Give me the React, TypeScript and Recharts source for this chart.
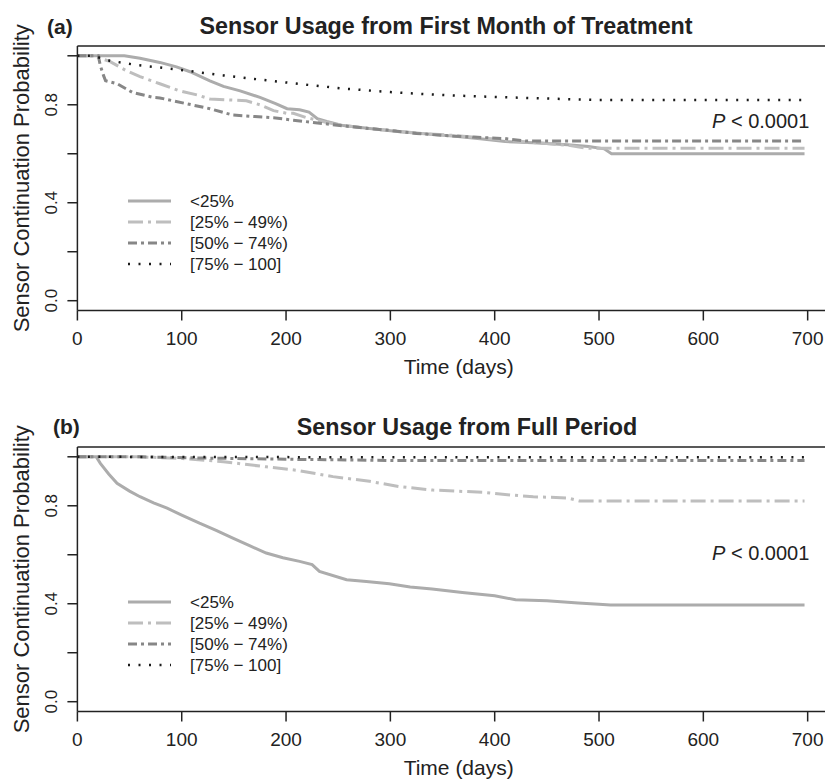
import React from 'react';
import { LineChart, Line, XAxis, YAxis, ReferenceLine, Legend, Label } from 'recharts';

const FONT = '"Liberation Sans", Arial, Helvetica, sans-serif';
const INK = '#222222';

// axes
const dayTicks = [0, 100, 200, 300, 400, 500, 600, 700];
const probTicks = [0, 0.2, 0.4, 0.6, 0.8, 1.0];
const probLabelTicks = [0, 0.4, 0.8];
const dayDomain = [0, 731];
const probDomain = [-0.04, 1.04];

const groupNames = ['<25%', '[25% − 49%)', '[50% − 74%)', '[75% − 100]'];

// (a) usage from first month of treatment
const aDaysLow = [0, 45, 60, 79, 95, 108, 127, 140, 156, 175, 190, 201, 213, 222, 230, 239, 255, 280, 309, 330, 360, 386, 410, 437, 470, 490, 505, 512, 697];
const aProbLow = [1, 1, 0.99, 0.973, 0.955, 0.935, 0.898, 0.875, 0.857, 0.83, 0.805, 0.784, 0.78, 0.77, 0.743, 0.732, 0.715, 0.703, 0.69, 0.683, 0.672, 0.661, 0.65, 0.645, 0.637, 0.63, 0.62, 0.6, 0.6];
const aDaysMid = [0, 15, 31, 47, 60, 79, 98, 115, 127, 145, 162, 175, 188, 201, 207, 220, 239, 255, 280, 300, 330, 360, 400, 440, 470, 488, 697];
const aProbMid = [1, 1, 0.977, 0.939, 0.915, 0.886, 0.857, 0.84, 0.824, 0.82, 0.816, 0.8, 0.776, 0.765, 0.765, 0.747, 0.728, 0.715, 0.703, 0.695, 0.683, 0.675, 0.66, 0.645, 0.635, 0.622, 0.622];
const aDaysHigh = [0, 20, 22, 25, 27, 38, 53, 73, 79, 105, 127, 149, 170, 188, 207, 226, 255, 280, 300, 325, 350, 380, 410, 430, 697];
const aProbHigh = [1, 1, 0.96, 0.92, 0.898, 0.886, 0.85, 0.83, 0.828, 0.804, 0.784, 0.758, 0.752, 0.747, 0.737, 0.728, 0.714, 0.703, 0.695, 0.683, 0.675, 0.668, 0.662, 0.652, 0.652];
const aDaysTop = [0, 15, 31, 57, 92, 105, 140, 181, 213, 255, 300, 322, 360, 400, 437, 470, 500, 697];
const aProbTop = [1, 1, 0.98, 0.962, 0.946, 0.939, 0.92, 0.9, 0.885, 0.866, 0.852, 0.846, 0.838, 0.832, 0.827, 0.823, 0.82, 0.82];

// (b) usage from full period
const bDaysLow = [0, 18, 22, 30, 38, 50, 60, 73, 86, 100, 117, 133, 149, 165, 181, 197, 213, 225, 232, 258, 277, 299, 319, 340, 369, 400, 420, 450, 480, 500, 511, 697];
const bProbLow = [1, 1, 0.973, 0.93, 0.892, 0.86, 0.837, 0.812, 0.79, 0.762, 0.729, 0.7, 0.668, 0.637, 0.607, 0.588, 0.573, 0.56, 0.532, 0.498, 0.491, 0.482, 0.468, 0.46, 0.446, 0.433, 0.416, 0.412, 0.403, 0.398, 0.395, 0.395];
const bDaysMid = [0, 60, 101, 140, 181, 210, 245, 280, 309, 341, 389, 415, 437, 470, 481, 697];
const bProbMid = [1, 1, 0.993, 0.98, 0.959, 0.945, 0.919, 0.9, 0.878, 0.864, 0.855, 0.844, 0.837, 0.832, 0.82, 0.82];
const bDaysHigh = [0, 60, 120, 200, 260, 300, 697];
const bProbHigh = [1, 1, 0.995, 0.99, 0.987, 0.985, 0.985];
const bDaysTop = [0, 300, 697];
const bProbTop = [1, 0.998, 0.998];

const groupStyles = [
  { stroke: '#acacac', width: 3, dash: undefined },
  { stroke: '#bebebe', width: 3, dash: '15 5 3 5' },
  { stroke: '#878787', width: 3, dash: '9 4 3 4' },
  { stroke: '#1a1a1a', width: 2.5, dash: '2 8.5' },
];

const toPoints = (days: number[], probs: number[]) => days.map((day, i) => ({ day, prob: probs[i] }));

const panelA = [toPoints(aDaysLow, aProbLow), toPoints(aDaysMid, aProbMid), toPoints(aDaysHigh, aProbHigh), toPoints(aDaysTop, aProbTop)];
const panelB = [toPoints(bDaysLow, bProbLow), toPoints(bDaysMid, bProbMid), toPoints(bDaysHigh, bProbHigh), toPoints(bDaysTop, bProbTop)];

function YTick(props: any) {
  const { x, y, payload } = props;
  if (!probLabelTicks.some((t) => Math.abs(t - payload.value) < 1e-6)) return <g />;
  return (
    <text x={x} y={y} dy="0.35em" textAnchor="middle" transform={`rotate(-90, ${x}, ${y})`}
      fontSize={17} fontFamily={FONT} fill={INK}>
      {payload.value.toFixed(1)}
    </text>
  );
}

function YTitle(props: any) {
  const vb = props.viewBox || { x: 0, y: 46, width: 77.4, height: 264.5 };
  const cx = 29;
  const cy = vb.y + vb.height / 2;
  return (
    <text x={cx} y={cy} textAnchor="middle" transform={`rotate(-90, ${cx}, ${cy})`}
      fontSize={22} fontFamily={FONT} fill={INK}>
      Sensor Continuation Probability
    </text>
  );
}

function XTitle(props: any) {
  const vb = props.viewBox || { x: 77.4, y: 310.5, width: 762.6, height: 60 };
  return (
    <text x={vb.x + vb.width / 2} y={vb.y + 63} textAnchor="middle" fontSize={21} fontFamily={FONT} fill={INK}>
      Time (days)
    </text>
  );
}

function LegendBox() {
  return (
    <svg width={260} height={90}>
      {groupNames.map((name, i) => {
        const y = 11 + i * 21;
        const s = groupStyles[i];
        return (
          <g key={name}>
            <line x1={8} x2={51} y1={y} y2={y} stroke={s.stroke} strokeWidth={s.width} strokeDasharray={s.dash} />
            <text x={70} y={y} dy="0.35em" fontSize={17} fontFamily={FONT} fill={INK}>{name}</text>
          </g>
        );
      })}
    </svg>
  );
}

function Panel({ series }: { series: { day: number; prob: number }[][] }) {
  const axisStyle = { stroke: INK, strokeWidth: 1.5 };
  return (
    <LineChart width={845} height={392} margin={{ top: 46, right: 5, bottom: 21.5, left: 0 }}>
      <XAxis type="number" dataKey="day" domain={dayDomain} ticks={dayTicks} interval={0} allowDataOverflow
        height={60} tickSize={10} tickMargin={11.5} axisLine={axisStyle} tickLine={axisStyle}
        tick={{ fontSize: 19, fill: INK, fontFamily: FONT }}>
        <Label content={XTitle} />
      </XAxis>
      <YAxis type="number" domain={probDomain} ticks={probTicks} interval={0} allowDataOverflow
        width={77.4} tickSize={10} tickMargin={16} axisLine={axisStyle} tickLine={axisStyle} tick={YTick}>
        <Label content={YTitle} />
      </YAxis>
      <ReferenceLine y={1.04} stroke={INK} strokeWidth={1.5} />
      {series.map((pts, i) => (
        <Line key={groupNames[i]} name={groupNames[i]} data={pts} dataKey="prob" type="linear"
          stroke={groupStyles[i].stroke} strokeWidth={groupStyles[i].width} strokeDasharray={groupStyles[i].dash}
          dot={false} activeDot={false} isAnimationActive={false} />
      ))}
      <Legend layout="vertical" align="center" verticalAlign="middle" content={LegendBox}
        wrapperStyle={{ left: 120, top: 190, width: 260, height: 90 }} />
    </LineChart>
  );
}

export default function App() {
  return (
    <div style={{ position: 'absolute', left: 0, top: 0, width: 825, height: 781, overflow: 'hidden', background: '#fff' }}>
      <div style={{ position: 'absolute', left: 0, top: 0 }}>
        <Panel series={panelA} />
      </div>
      <div style={{ position: 'absolute', left: 0, top: 401 }}>
        <Panel series={panelB} />
      </div>
      <svg width={825} height={781} style={{ position: 'absolute', left: 0, top: 0, pointerEvents: 'none' }}>
        <g fontFamily={FONT} fill={INK}>
          <text x={47} y={34} fontSize={21} fontWeight="bold">(a)</text>
          <text x={446} y={34} fontSize={23.3} fontWeight="bold" textAnchor="middle">Sensor Usage from First Month of Treatment</text>
          <text x={712} y={128} fontSize={20}><tspan fontStyle="italic">P</tspan> &lt; 0.0001</text>
          <text x={53} y={434} fontSize={21} fontWeight="bold">(b)</text>
          <text x={467} y={435} fontSize={23.3} fontWeight="bold" textAnchor="middle">Sensor Usage from Full Period</text>
          <text x={712} y={560} fontSize={20}><tspan fontStyle="italic">P</tspan> &lt; 0.0001</text>
        </g>
      </svg>
    </div>
  );
}
